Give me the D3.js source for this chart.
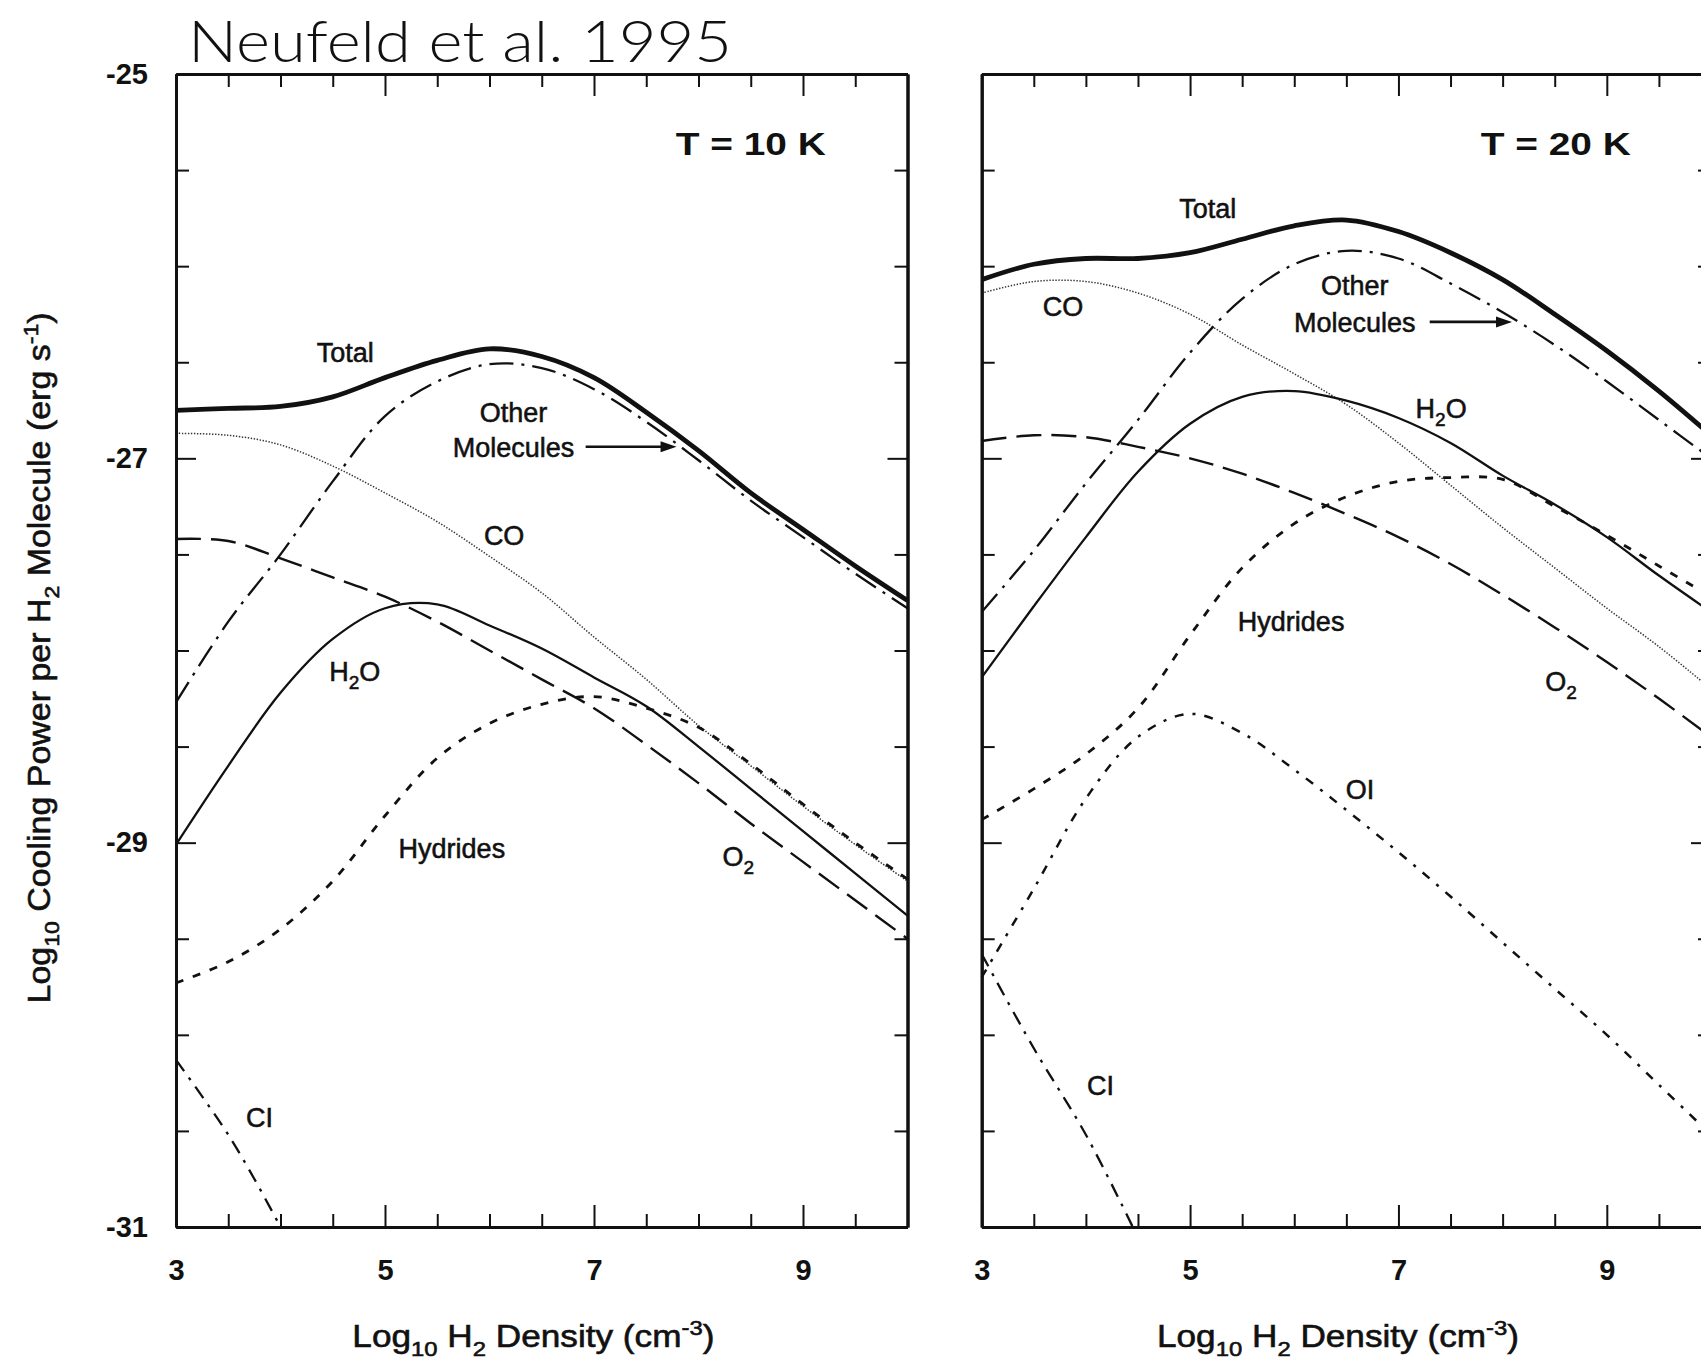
<!DOCTYPE html>
<html><head><meta charset="utf-8">
<script src="https://cdn.jsdelivr.net/npm/d3@7"></script>
<style>
html,body{margin:0;padding:0;background:#fff;}
svg{display:block;background:#fff;}
text{font-family:"Liberation Sans",Arial,Helvetica,sans-serif;fill:#111;}
</style></head><body>
<svg id="chart" width="1701" height="1360"></svg>
<script>
// ---------------- data ----------------
const density = [3,3.5,4,4.5,5,5.5,6,6.5,7,7.5,8,8.5,9,9.5,10];

// T = 10 K
const total10 = [-26.75,-26.74,-26.73,-26.68,-26.58,-26.49,-26.43,-26.47,-26.58,-26.76,-26.96,-27.18,-27.37,-27.56,-27.74];
const other10 = [-28.27,-27.85,-27.50,-27.12,-26.78,-26.60,-26.51,-26.53,-26.64,-26.81,-27.01,-27.22,-27.41,-27.60,-27.78];
const co10    = [-26.87,-26.88,-26.93,-27.04,-27.18,-27.33,-27.51,-27.70,-27.93,-28.15,-28.39,-28.60,-28.81,-29.01,-29.20];
const o2_10   = [-27.42,-27.43,-27.52,-27.62,-27.72,-27.85,-28.00,-28.15,-28.30,-28.49,-28.69,-28.90,-29.10,-29.30,-29.50];
const h2o10   = [-29.01,-28.60,-28.22,-27.94,-27.78,-27.76,-27.87,-27.99,-28.14,-28.29,-28.50,-28.72,-28.94,-29.16,-29.38];
const hyd10   = [-29.73,-29.62,-29.45,-29.20,-28.86,-28.56,-28.38,-28.28,-28.24,-28.30,-28.40,-28.59,-28.80,-29.00,-29.19];
const ci10x   = [3,3.25,3.5,3.75,4.0];
const ci10    = [-30.13,-30.32,-30.52,-30.75,-31.0];

// T = 20 K
const total20 = [-26.07,-25.99,-25.96,-25.96,-25.93,-25.86,-25.79,-25.76,-25.82,-25.93,-26.07,-26.25,-26.44,-26.65,-26.88];
const other20 = [-27.80,-27.48,-27.13,-26.80,-26.45,-26.17,-25.99,-25.92,-25.96,-26.09,-26.24,-26.41,-26.60,-26.80,-27.00];
const co20    = [-26.14,-26.08,-26.08,-26.14,-26.25,-26.41,-26.56,-26.72,-26.92,-27.14,-27.36,-27.57,-27.78,-27.98,-28.20];
const o2_20   = [-26.91,-26.88,-26.89,-26.94,-27.00,-27.08,-27.18,-27.29,-27.41,-27.55,-27.71,-27.88,-28.06,-28.25,-28.45];
const h2o20   = [-28.14,-27.77,-27.41,-27.07,-26.82,-26.68,-26.65,-26.70,-26.79,-26.92,-27.09,-27.24,-27.41,-27.61,-27.80];
const hyd20   = [-28.88,-28.72,-28.54,-28.30,-27.92,-27.57,-27.34,-27.20,-27.12,-27.10,-27.11,-27.25,-27.40,-27.56,-27.72];
const oi20    = [-29.70,-29.24,-28.77,-28.45,-28.33,-28.43,-28.62,-28.83,-29.05,-29.28,-29.52,-29.76,-30.00,-30.26,-30.52];
const ci20x   = [3,3.5,4,4.45];
const ci20    = [-29.58,-30.07,-30.52,-31.0];

// ticks
const xMajorTicks = [3,5,7,9];
const xMinorTicks = [3.5,4,4.5,5.5,6,6.5,7.5,8,8.5,9.5];
const yMajorTicks = [-25,-27,-29,-31];
const yMinorTicks = [-25.5,-26,-26.5,-27.5,-28,-28.5,-29.5,-30,-30.5];

// annotation labels [text segments, x, y] in data coordinates
const labels10 = [
  [[["Total"]], 4.62, -26.45],
  [[["Other"]], 6.23, -26.76],
  [[["Molecules"]], 6.23, -26.94],
  [[["CO"]], 6.14, -27.40],
  [[["H"],["2","sub"],["O"]], 4.71, -28.11],
  [[["Hydrides"]], 5.64, -29.03],
  [[["O"],["2","sub"]], 8.38, -29.07],
  [[["CI"]], 3.80, -30.43]
];
const arrow10 = [6.92, 7.79, -26.94];
const labels20 = [
  [[["Total"]], 5.17, -25.70],
  [[["CO"]], 3.78, -26.21],
  [[["Other"]], 6.58, -26.10],
  [[["Molecules"]], 6.58, -26.29],
  [[["H"],["2","sub"],["O"]], 7.41, -26.74],
  [[["Hydrides"]], 5.97, -27.85],
  [[["O"],["2","sub"]], 8.56, -28.16],
  [[["OI"]], 6.63, -28.72],
  [[["CI"]], 4.14, -30.26]
];
const arrow20 = [7.30, 8.09, -26.29];

// ---------------- drawing ----------------
const svg = d3.select("#chart");
const W = 1701, H = 1360;
svg.append("rect").attr("width",W).attr("height",H).attr("fill","#fff");

const yScale = d3.scaleLinear().domain([-31,-25]).range([1227,74]);

const styles = {
  total: {w:4.8, dash:null, c:"#111"},
  other: {w:2.3, dash:"24,8,3,8", c:"#111"},
  co:    {w:1.5, dash:"1.4,1.6", c:"#333"},
  o2:    {w:2.4, dash:"25,10", c:"#111"},
  h2o:   {w:2.3, dash:null, c:"#111"},
  hyd:   {w:2.8, dash:"8,10", c:"#111"},
  ci:    {w:2.3, dash:"14,8,3,8", c:"#111"},
  oi:    {w:2.5, dash:"9,9,3,9", c:"#111"}
};

function drawPanel(opts){
  const x = d3.scaleLinear().domain([3,10]).range(opts.xr);
  const g = svg.append("g");
  const [y0,y1] = [yScale(-31), yScale(-25)];

  // curves
  const line = d3.line().x(d=>x(d[0])).y(d=>yScale(d[1])).curve(d3.curveCatmullRom.alpha(0.5));
  opts.series.forEach(s=>{
    const st = styles[s.style];
    const pts = s.x.map((v,i)=>[v,s.y[i]]);
    g.append("path").attr("d",line(pts)).attr("fill","none")
      .attr("stroke",st.c).attr("stroke-width",st.w)
      .attr("stroke-dasharray",st.dash)
      .attr("stroke-linejoin","round");
  });

  // axes
  const axStyle = sel=>{
    sel.select(".domain").attr("stroke","#111").attr("stroke-width",3);
    sel.selectAll(".tick line").attr("stroke","#111").attr("stroke-width",2);
    sel.selectAll(".tick text").attr("fill","#111")
      .style("font-family","'Liberation Sans',Arial,sans-serif").style("font-size","29px")
      .style("font-weight","bold");
  };
  // bottom
  g.append("g").attr("transform",`translate(0,${y0})`)
    .call(d3.axisBottom(x).tickValues(xMinorTicks).tickSizeInner(-13).tickSizeOuter(0).tickFormat(""))
    .call(axStyle);
  g.append("g").attr("transform",`translate(0,${y0})`)
    .call(d3.axisBottom(x).tickValues(xMajorTicks).tickSizeInner(-22).tickSizeOuter(0).tickPadding(32).tickFormat(d3.format("d")))
    .call(axStyle);
  // top
  g.append("g").attr("transform",`translate(0,${y1})`)
    .call(d3.axisTop(x).tickValues(xMinorTicks).tickSizeInner(-13).tickSizeOuter(0).tickFormat(""))
    .call(axStyle);
  g.append("g").attr("transform",`translate(0,${y1})`)
    .call(d3.axisTop(x).tickValues(xMajorTicks).tickSizeInner(-22).tickSizeOuter(0).tickFormat(""))
    .call(axStyle);
  // left
  g.append("g").attr("transform",`translate(${opts.xr[0]},0)`)
    .call(d3.axisLeft(yScale).tickValues(yMinorTicks).tickSizeInner(-13).tickSizeOuter(0).tickFormat(""))
    .call(axStyle);
  const la = g.append("g").attr("transform",`translate(${opts.xr[0]},0)`)
    .call(d3.axisLeft(yScale).tickValues(yMajorTicks).tickSizeInner(-20).tickSizeOuter(0).tickPadding(28)
      .tickFormat(opts.yLabels ? d3.format("d") : ""))
    .call(axStyle);
  la.selectAll(".tick text").text(d=>opts.yLabels ? String(d) : "");
  // right
  g.append("g").attr("transform",`translate(${opts.xr[1]},0)`)
    .call(d3.axisRight(yScale).tickValues(yMinorTicks).tickSizeInner(-13).tickSizeOuter(0).tickFormat(""))
    .call(axStyle);
  g.append("g").attr("transform",`translate(${opts.xr[1]},0)`)
    .call(d3.axisRight(yScale).tickValues(yMajorTicks).tickSizeInner(-20).tickSizeOuter(0).tickFormat(""))
    .call(axStyle);

  // labels
  opts.labels.forEach(([segs,lx,ly])=>{
    const t = g.append("text").attr("x",x(lx)).attr("y",yScale(ly)).attr("dy","0.36em")
      .attr("text-anchor","middle").style("font-size","27px")
      .attr("stroke","#111").attr("stroke-width",0.55);
    let shifted = false;
    segs.forEach(s=>{
      const ts = t.append("tspan").text(s[0]);
      if (s[1]==="sub"){ ts.attr("dy",8).style("font-size","19px"); shifted = true; }
      else if (shifted){ ts.attr("dy",-8); shifted = false; }
    });
  });
  // temperature
  g.append("text").attr("x",x(opts.tx)).attr("y",yScale(-25.36)).attr("dy","0.36em")
    .attr("text-anchor","middle").style("font-size","32px").style("font-weight","bold")
    .attr("textLength",150).attr("lengthAdjust","spacingAndGlyphs")
    .text(opts.tLabel);
  // arrow
  const [ax0,ax1,ay] = opts.arrow;
  g.append("line").attr("x1",x(ax0)).attr("x2",x(ax1)-12).attr("y1",yScale(ay)).attr("y2",yScale(ay))
    .attr("stroke","#111").attr("stroke-width",2.6);
  const tipX = x(ax1), tipY = yScale(ay);
  g.append("path").attr("d",`M${tipX},${tipY} L${tipX-16},${tipY-5.5} L${tipX-16},${tipY+5.5} Z`).attr("fill","#111");

  // x title
  const xt = g.append("text").attr("x",x(6.42)).attr("y",1347)
    .attr("text-anchor","middle").style("font-size","31px")
    .attr("stroke","#111").attr("stroke-width",0.6)
    .attr("textLength",362).attr("lengthAdjust","spacingAndGlyphs");
  xt.append("tspan").text("Log");
  xt.append("tspan").text("10").attr("dy",9).style("font-size","21px");
  xt.append("tspan").text(" H").attr("dy",-9);
  xt.append("tspan").text("2").attr("dy",9).style("font-size","21px");
  xt.append("tspan").text(" Density (cm").attr("dy",-9);
  xt.append("tspan").text("-3").attr("dy",-12).style("font-size","21px");
  xt.append("tspan").text(")").attr("dy",12);
  return x;
}

drawPanel({
  xr:[176,907.5], yLabels:true, tLabel:"T = 10 K", tx:8.50, arrow:arrow10, labels:labels10,
  series:[
    {x:density,y:co10,style:"co"},
    {x:density,y:hyd10,style:"hyd"},
    {x:density,y:o2_10,style:"o2"},
    {x:density,y:h2o10,style:"h2o"},
    {x:density,y:other10,style:"other"},
    {x:ci10x,y:ci10,style:"ci"},
    {x:density,y:total10,style:"total"}
  ]
});
drawPanel({
  xr:[981.7,1711], yLabels:false, tLabel:"T = 20 K", tx:8.51, arrow:arrow20, labels:labels20,
  series:[
    {x:density,y:co20,style:"co"},
    {x:density,y:hyd20,style:"hyd"},
    {x:density,y:o2_20,style:"o2"},
    {x:density,y:h2o20,style:"h2o"},
    {x:density,y:other20,style:"other"},
    {x:density,y:oi20,style:"oi"},
    {x:ci20x,y:ci20,style:"ci"},
    {x:density,y:total20,style:"total"}
  ]
});

// y axis title
const yt = svg.append("text").attr("transform","translate(50,658) rotate(-90)")
  .attr("text-anchor","middle").style("font-size","31px")
  .attr("stroke","#111").attr("stroke-width",0.6)
  .attr("textLength",691).attr("lengthAdjust","spacingAndGlyphs");
yt.append("tspan").text("Log");
yt.append("tspan").text("10").attr("dy",9).style("font-size","21px");
yt.append("tspan").text(" Cooling Power per H").attr("dy",-9);
yt.append("tspan").text("2").attr("dy",9).style("font-size","21px");
yt.append("tspan").text(" Molecule (erg s").attr("dy",-9);
yt.append("tspan").text("-1").attr("dy",-12).style("font-size","21px");
yt.append("tspan").text(")").attr("dy",12);

// title
svg.append("text").attr("x",188).attr("y",62)
  .style("font-family","Lato,'Open Sans','Noto Sans',sans-serif").style("font-weight","300")
  .style("font-size","58px").attr("textLength",544).attr("lengthAdjust","spacingAndGlyphs")
  .text("Neufeld et al. 1995");
</script>
</body></html>
